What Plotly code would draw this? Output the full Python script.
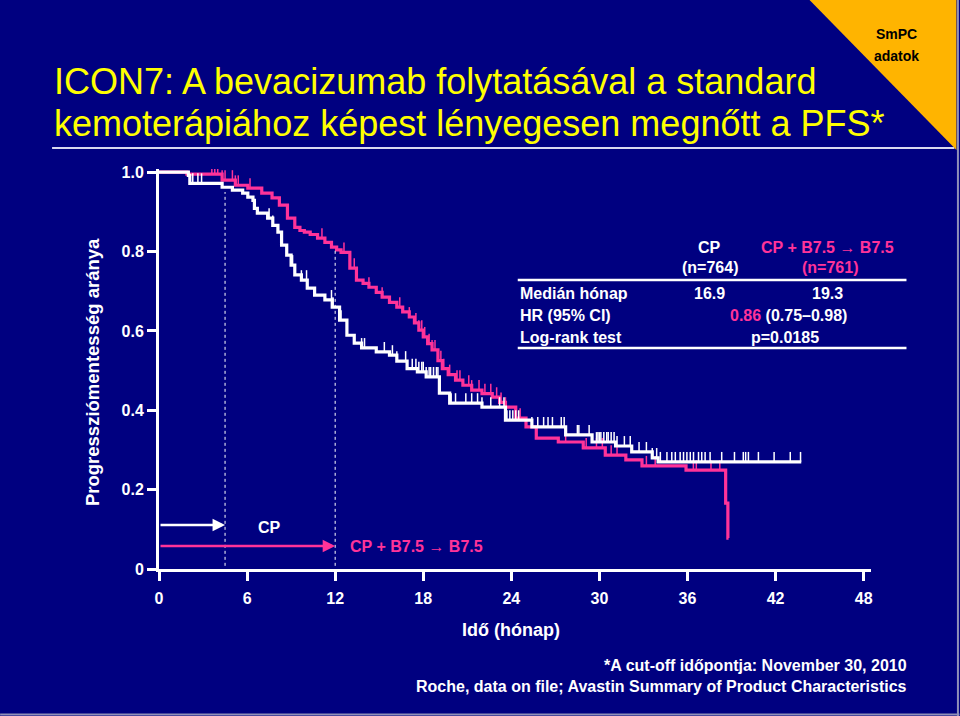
import plotly.graph_objects as go

# ---------------- data ----------------
cp_months = [0, 1.9, 2.0, 2.1, 4.3, 5.0, 5.7, 6.05, 6.4, 6.5, 6.7, 7.4, 7.75, 8.1, 8.35,
             8.7, 9.0, 9.25, 9.7, 10.1, 10.6, 11.3, 11.8, 12.3, 12.8, 13.3, 13.8, 14.8,
             15.7, 16.2, 16.9, 17.6, 18.2, 19.1, 19.8, 22.0, 23.6, 25.4, 27.7, 29.5,
             31.1, 32.2, 33.6, 34.0, 43.75]
cp_surv = [1.0, 1.0, 0.992, 0.972, 0.962, 0.955, 0.947, 0.937, 0.929, 0.909, 0.897,
           0.884, 0.866, 0.849, 0.816, 0.791, 0.766, 0.741, 0.728, 0.708, 0.690, 0.678,
           0.660, 0.627, 0.589, 0.569, 0.557, 0.547, 0.539, 0.524, 0.505, 0.497, 0.484,
           0.443, 0.418, 0.408, 0.375, 0.358, 0.338, 0.320, 0.310, 0.295, 0.280, 0.270,
           0.270]

bev_months = [0, 1.9, 4.3, 5.2, 6.05, 7.0, 7.7, 8.2, 8.75, 9.25, 9.6, 9.9, 10.3, 10.8,
              11.3, 11.75, 12.1, 12.4, 13.0, 13.45, 13.9, 14.3, 14.8, 15.2, 15.7, 16.2,
              16.6, 17.05, 17.4, 17.7, 18.0, 18.3, 18.6, 19.0, 19.3, 19.7, 20.2, 20.7,
              21.3, 22.0, 22.7, 23.2, 23.6, 24.3, 25.0, 25.7, 27.2, 28.9, 30.4, 31.8,
              32.9, 35.9, 38.6, 38.75, 38.8]
bev_surv = [1.0, 0.995, 0.980, 0.967, 0.960, 0.947, 0.935, 0.917, 0.884, 0.861, 0.853,
            0.849, 0.843, 0.834, 0.823, 0.811, 0.804, 0.798, 0.758, 0.728, 0.720, 0.710,
            0.697, 0.685, 0.672, 0.660, 0.648, 0.635, 0.620, 0.602, 0.585, 0.568, 0.552,
            0.525, 0.505, 0.490, 0.476, 0.463, 0.451, 0.442, 0.433, 0.420, 0.408, 0.380,
            0.358, 0.330, 0.320, 0.305, 0.287, 0.275, 0.260, 0.249, 0.166, 0.078, 0.078]

cp_censored = [2.3, 2.65, 2.9, 7.5, 7.75, 9.0, 9.1, 9.7, 10.05, 11.75, 11.85, 12.4, 13.8,
               14.0, 15.35, 15.9, 16.2, 16.8, 17.25, 17.5, 17.7, 17.9, 18.0, 18.2, 18.4,
               18.5, 18.7, 18.9, 19.0, 19.9, 20.2, 20.9, 21.3, 21.7, 22.0, 22.6, 23.2,
               23.5, 23.7, 23.9, 24.1, 24.3, 24.5, 25.4, 25.8, 26.2, 26.5, 26.8, 27.4,
               27.6, 28.5, 28.6, 29.3, 29.8, 29.9, 30.0, 30.1, 30.3, 30.5, 30.6, 30.8,
               31.0, 31.2, 31.7, 32.1, 32.7, 33.2, 33.6, 33.9, 34.15, 34.6, 34.93, 35.17,
               35.5, 35.73, 35.96, 36.19, 36.41, 36.75, 36.97, 37.2, 37.54, 38.33, 39.2,
               39.8, 39.96, 40.15, 40.83, 41.9, 43.0, 43.7]
bev_censored = [3.6, 3.8, 4.0, 4.3, 4.5, 5.0, 5.2, 5.4, 6.2, 11.1, 12.6, 13.3, 14.3, 15.2,
                16.4, 17.05, 17.5, 17.7, 17.9, 18.1, 18.4, 18.6, 18.8, 19.0, 19.2, 19.4,
                19.8, 20.3, 20.5, 21.1, 21.3, 21.8, 22.2, 22.6, 23.0, 23.3, 23.6, 24.3,
                24.6, 25.0, 27.7, 29.1, 29.8, 30.2, 30.8, 31.2, 33.2, 33.8, 36.4, 36.6,
                37.6, 38.2]

treatment_end = [4.5, 12.0]          # CP arm, CP + B7.5 arm (months)
x_ticks = [0, 6, 12, 18, 24, 30, 36, 42, 48]
y_ticks = [0, 0.2, 0.4, 0.6, 0.8, 1.0]
y_ticklabels = ["0", "0.2", "0.4", "0.6", "0.8", "1.0"]

NAVY = "#000080"
PINK = "#FF3399"
WHITE = "#FFFFFF"
FONT = "Liberation Sans, Arial, sans-serif"

# plot area geometry (pixels)
L, T, W, H = 159, 169, 712.5, 400


def px(x):
    return (x - L) / W


def py(y):
    return (T + H - y) / H


def step_value(months, surv, t):
    v = surv[0]
    for m, s in zip(months, surv):
        if m <= t:
            v = s
    return v


def censor_segments(months, surv, times, h=0.025):
    xs, ys = [], []
    for t in times:
        s = step_value(months, surv, t)
        xs += [t, t, None]
        ys += [s, s + h, None]
    return xs, ys


fig = go.Figure()

bx, by = censor_segments(bev_months, bev_surv, bev_censored)
fig.add_trace(go.Scatter(x=bev_months, y=bev_surv, mode="lines", line_shape="hv",
                         line=dict(color=PINK, width=3.2), hoverinfo="skip"))
fig.add_trace(go.Scatter(x=bx, y=by, mode="lines", line=dict(color=PINK, width=1.5),
                         hoverinfo="skip"))
cx, cy = censor_segments(cp_months, cp_surv, cp_censored)
fig.add_trace(go.Scatter(x=cp_months, y=cp_surv, mode="lines", line_shape="hv",
                         line=dict(color=WHITE, width=3.2), hoverinfo="skip"))
fig.add_trace(go.Scatter(x=cx, y=cy, mode="lines", line=dict(color=WHITE, width=1.5),
                         hoverinfo="skip"))

shapes = []
# dotted treatment-end lines
shapes.append(dict(type="line", xref="x", yref="y", x0=treatment_end[0], x1=treatment_end[0],
                   y0=0.008, y1=step_value(cp_months, cp_surv, treatment_end[0]) - 0.012,
                   line=dict(color=WHITE, width=1, dash="dot")))
shapes.append(dict(type="line", xref="x", yref="y", x0=treatment_end[1], x1=treatment_end[1],
                   y0=0.008, y1=step_value(bev_months, bev_surv, treatment_end[1]) - 0.008,
                   line=dict(color=WHITE, width=1, dash="dot")))
# table rules
for yy in (280, 348):
    shapes.append(dict(type="line", xref="paper", yref="paper", x0=px(518), x1=px(907),
                       y0=py(yy), y1=py(yy), line=dict(color=WHITE, width=2.5)))
# title underline
shapes.append(dict(type="line", xref="paper", yref="paper", x0=px(52), x1=px(955),
                   y0=py(148), y1=py(148), line=dict(color="#D8D8F0", width=2)))
# corner triangle
shapes.append(dict(type="path", xref="paper", yref="paper",
                   path=f"M {px(810)} {py(0)} L {px(957)} {py(0)} L {px(957)} {py(150)} Z",
                   fillcolor="#FFB400", line=dict(width=0)))
# slide border (right and bottom)
shapes.append(dict(type="line", xref="paper", yref="paper", x0=px(958.5), x1=px(958.5),
                   y0=py(0), y1=py(716), line=dict(color="#9090B8", width=2)))
shapes.append(dict(type="line", xref="paper", yref="paper", x0=px(0), x1=px(960),
                   y0=py(714.5), y1=py(714.5), line=dict(color="#9090B8", width=2)))

ann = []


def text(x, y, s, size=16, color=WHITE, bold=True, xanchor="center", family=FONT):
    ann.append(dict(xref="paper", yref="paper", x=px(x), y=py(y), text=s, showarrow=False,
                    xanchor=xanchor, yanchor="middle",
                    font=dict(size=size, color=color, family=family,
                              weight="bold" if bold else "normal")))


# title
text(52, 81, "ICON7: A bevacizumab folytatásával a standard", size=36, color="#FFFF00",
     bold=False, xanchor="left")
text(52, 124, "kemoterápiához képest lényegesen megnőtt a PFS*", size=36, color="#FFFF00",
     bold=False, xanchor="left")
text(897, 34, "SmPC", size=14, color="#000000")
text(897, 56, "adatok", size=14, color="#000000")

# table
text(710, 247, "CP")
text(710, 267, "(n=764)")
text(828, 247, "CP + B7.5 → B7.5", color=PINK)
text(830, 267, "(n=761)", color=PINK)
text(518, 293, "Medián hónap", xanchor="left")
text(518, 315, "HR (95% CI)", xanchor="left")
text(518, 337, "Log-rank test", xanchor="left")
text(710, 293, "16.9")
text(828, 293, "19.3")
text(789, 315, f"<span style='color:{PINK}'>0.86</span> (0.75–0.98)")
text(785, 337, "p=0.0185")

# arm labels
text(270, 527, "CP")
text(348, 546, "CP + B7.5 → B7.5", color=PINK, xanchor="left")

# axis titles
text(511, 630, "Idő (hónap)", size=18)
ann.append(dict(xref="paper", yref="paper", x=px(92), y=py(372),
                text="Progressziómentesség aránya", showarrow=False, textangle=-90,
                xanchor="center", yanchor="middle",
                font=dict(size=18.5, color=WHITE, family=FONT, weight="bold")))

# footer
text(910, 665, "*A cut-off időpontja: November 30, 2010", size=16, xanchor="right")
text(910, 686, "Roche, data on file; Avastin Summary of Product Characteristics", size=16,
     xanchor="right")

# treatment arrows
ann.append(dict(xref="x", yref="y", axref="x", ayref="y", x=treatment_end[0], y=0.111,
                ax=0, ay=0.111, text="", showarrow=True, arrowhead=2, arrowsize=1,
                arrowwidth=2.5, arrowcolor=WHITE, standoff=0))
ann.append(dict(xref="x", yref="y", axref="x", ayref="y", x=treatment_end[1], y=0.058,
                ax=0, ay=0.058, text="", showarrow=True, arrowhead=2, arrowsize=1,
                arrowwidth=2.5, arrowcolor=PINK, standoff=0))

fig.update_layout(
    width=960, height=716,
    margin=dict(l=L, r=960 - L - W, t=T, b=716 - T - H, pad=0),
    paper_bgcolor=NAVY, plot_bgcolor=NAVY,
    showlegend=False,
    shapes=shapes, annotations=ann,
    font=dict(family=FONT, color=WHITE),
    xaxis=dict(range=[0, 48.5], tickvals=x_ticks, ticks="outside", ticklen=9, tickwidth=3,
               tickcolor=WHITE, showline=True, linecolor=WHITE, linewidth=3,
               showgrid=False, zeroline=False, ticklabelstandoff=4,
               tickfont=dict(size=16, color=WHITE, family=FONT, weight="bold")),
    yaxis=dict(range=[0, 1.008], tickvals=y_ticks, ticktext=y_ticklabels, ticks="outside",
               ticklen=9, tickwidth=3, tickcolor=WHITE, showline=True, linecolor=WHITE,
               linewidth=3, showgrid=False, zeroline=False,
               tickfont=dict(size=16, color=WHITE, family=FONT, weight="bold")),
)

fig.write_html(
    "out.html",
    config={"displayModeBar": False},
    post_script="document.body.style.margin='0';document.body.style.padding='0';"
                "document.body.style.background='#000080';"
                "document.body.style.overflow='hidden';",
)
